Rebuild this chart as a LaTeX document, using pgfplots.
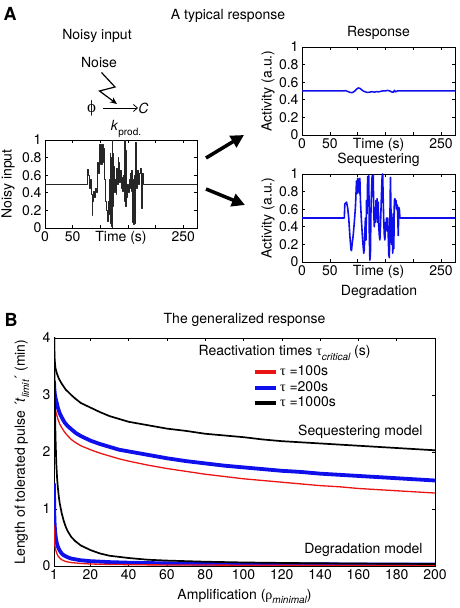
\documentclass[border=0pt]{standalone}
\usepackage{fontspec}
\setmainfont{TeX Gyre Heros}
\newfontfamily\grk{Liberation Serif}
\usepackage{pgfplots}
\pgfplotsset{compat=1.18}
\usetikzlibrary{arrows.meta}
\newcommand\fs{\fontsize{14}{16}\selectfont}
\newcommand\ssub[1]{\raisebox{-0.3em}{\fontsize{10}{11}\selectfont\itshape #1}}
\definecolor{mred}{RGB}{235,20,20}
\definecolor{mblue}{RGB}{15,15,235}

\pgfplotsset{
  mat/.style={scale only axis, axis line style={line width=0.7pt},
    tick align=inside, tick pos=both, xticklabel pos=left, yticklabel pos=left,
    major tick length=3pt, tick style={line width=0.6pt,black},
    tick label style={font=\fs}, label style={font=\fs}, title style={font=\fs},
    /pgf/number format/assume math mode=true,
    every axis plot/.append style={line join=round},
  },
  small/.style={mat, width=152pt, height=88pt, xmin=0, xmax=275, ymin=0, ymax=1,
    xtick={0,50,100,150,200,250}, xticklabels={0,50,,,,250},
    ytick={0,0.2,0.4,0.6,0.8,1}, yticklabels={0,0.2,0.4,0.6,0.8,1},
    xlabel={Time (s)},
    xlabel style={at={(axis description cs:0.5,0)}, anchor=north, inner sep=0.333em},
  },
}

\begin{document}
\begin{tikzpicture}
\path[use as bounding box] (0,0) rectangle (460pt,608pt);

% ---------- Noisy input ----------
\begin{axis}[small, at={(45pt,380pt)}, anchor=south west,
  ylabel={Noisy input},
  ylabel style={at={(axis description cs:-0.243,0.5)}, anchor=center}]
\addplot[const plot, black!85, line width=0.9pt] coordinates {
(0,0.5) (77,0.67) (79,0.60) (80.5,0.45) (82,0.55) (83.5,0.38) (85,0.14) (86.5,0.30)
(88,0.42) (89.5,0.35) (91,0.45) (92.5,0.40) (94,0.55) (95.5,0.75) (97,0.62) (98,0.95)
(98.7,0.75) (99.4,0.94) (100.1,0.72) (100.8,0.95) (101.5,0.80) (102.2,0.94) (103,0.72)
(104,0.95) (105,0.75) (106,0.90) (107,0.55) (108.5,0.42) (110,0.30) (111.5,0.20)
(113,0.08) (114.5,0.30) (116,0.55) (117,0.15) (118,0.85) (118.8,0.05) (119.6,0.80)
(120.4,0.02) (121.2,1.00) (122,0.00) (122.8,0.85) (123.6,0.25) (124.5,0.70) (125.5,0.40)
(127,0.55) (128.5,0.38) (130,0.68) (131,0.50) (132,0.80) (133,0.55) (134,0.75) (135,0.52)
(136.5,0.65) (138,0.45) (139.5,0.58) (141,0.42) (142.5,0.60) (143.5,0.30) (144.5,1.00)
(145.5,0.25) (146.5,0.88) (147.5,0.35) (149,0.50) (150.5,0.40) (152,0.55) (153.5,0.45)
(155,0.62) (156,0.42) (157,0.65) (158,0.06) (159,0.55) (160,0.04) (161,0.60) (162,0.05)
(163,0.52) (164,0.97) (165,0.45) (166.5,0.55) (168,0.65) (169.5,0.50) (171,0.62)
(172.5,0.68) (174,0.60) (175,0.22) (176,0.62) (177.5,0.50) (275,0.50)};
\end{axis}

% ---------- Response ----------
\begin{axis}[small, at={(302pt,473pt)}, anchor=south west, width=153pt,
  ylabel={Activity (a.u.)},
  ylabel style={at={(axis description cs:-0.222,0.5)}, anchor=center},
  title={Response},
  title style={at={(axis description cs:0.5,1)}, anchor=south, inner sep=1.5pt}]
\addplot[mblue, line width=1.5pt] coordinates {
(0,0.5) (75,0.5) (78,0.505) (82,0.495) (86,0.485) (90,0.48) (94,0.495) (98,0.52)
(101,0.535) (104,0.53) (107,0.515) (110,0.5) (114,0.49) (118,0.483) (122,0.488)
(126,0.492) (130,0.487) (134,0.493) (138,0.49) (142,0.497) (146,0.502) (150,0.5)
(154,0.507) (158,0.5) (161,0.49) (164,0.485) (166,0.508) (168,0.49) (171,0.5) (275,0.5)};
\end{axis}

% ---------- Sequestering ----------
\begin{axis}[small, at={(302pt,346pt)}, anchor=south west, width=153pt,
  ylabel={Activity (a.u.)},
  ylabel style={at={(axis description cs:-0.222,0.5)}, anchor=center},
  title={Sequestering},
  title style={at={(axis description cs:0.5,1)}, anchor=south, inner sep=1.5pt}]
\addplot[mblue, line width=1.6pt] coordinates {
(0,0.5) (76,0.5) (77,0.66) (80,0.68) (82,0.62) (84,0.50) (86,0.30) (88,0.14) (89,0.13)
(90,0.20) (92,0.30) (94,0.45) (96,0.62) (98,0.92) (99,0.78) (100,0.95) (101,0.80)
(102,0.94) (103,0.78) (104,0.95) (105,0.70) (107,0.45) (109,0.25) (111,0.10) (112,0.15)
(113,0.35) (114,0.50) (115,0.25) (116,0.70) (117,0.55) (118,0.97) (119,0.80) (120,0.98)
(121,0.30) (122,0.02) (123,0.10) (124,0.60) (125,0.80) (126,0.98) (127,0.75) (128,0.99)
(129,0.55) (130,0.40) (131,0.62) (132,0.45) (133,0.70) (134,0.50) (135,0.72) (136,0.45)
(137,0.68) (138,0.40) (139,0.30) (140,0.25) (141,0.40) (142,0.60) (143,0.80) (144,0.97)
(145,1.00) (146,0.70) (147,0.45) (148,0.30) (149,0.25) (150,0.45) (151,0.40) (152,0.50)
(153,0.35) (154,0.50) (155,0.30) (156,0.08) (157,0.05) (158,0.50) (159,0.96) (160,0.55)
(161,0.20) (162,0.50) (163,0.10) (164,0.55) (165,0.15) (166,0.70) (167,0.72) (168,0.65)
(169,0.70) (170,0.60) (171,0.65) (172,0.55) (173,0.30) (174,0.62) (175,0.60) (176,0.50)
(275,0.50)};
\end{axis}

% ---------- Panel B ----------
\begin{axis}[mat, at={(54pt,42pt)}, anchor=south west, width=381pt, height=228pt,
  xmin=1, xmax=200, ymin=0, ymax=4,
  xtick={1,20,40,60,80,100,120,140,160,180,200},
  xticklabels={1,20,40,60,80,100,120,140,160,180,200},
  ytick={0,1,2,3,4}, yticklabels={0,1,2,3,4},
  xlabel={Amplification ({\grk ρ}\ssub{minimal})},
  xlabel style={at={(axis description cs:0.5,-0.132)}, anchor=center},
  ylabel={Length of tolerated pulse ´\textit{t}\ssub{limit}´ (min)},
  ylabel style={at={(axis description cs:-0.084,0.5)}, anchor=center},
  title={The generalized response},
  title style={at={(axis description cs:0.5,1)}, anchor=south, inner sep=0pt, yshift=5pt},
  legend style={at={(rel axis cs:0.521,0.781)}, anchor=west, draw=none, fill=none,
    inner sep=0pt, outer sep=0pt, row sep=2pt, font=\fs,
    nodes={inner xsep=2.5pt, inner ysep=0pt, text height=10pt, text depth=3.5pt}},
  legend cell align=left,
  legend image code/.code={\draw[#1, line width=4pt] (0pt,0pt) -- (21pt,0pt);},
]
\addplot[mred, line width=1.3pt] coordinates {
(1,3.00) (1.2,2.88) (1.5,2.78) (2,2.70) (3,2.58) (4,2.49) (5,2.43) (6.5,2.35) (8,2.29)
(10,2.22) (12.5,2.16) (15,2.11) (20,2.04) (25,1.98) (30,1.93) (35,1.88) (40,1.84)
(50,1.77) (60,1.71) (70,1.66) (80,1.61) (90,1.57) (100,1.53) (110,1.50) (120,1.47)
(130,1.44) (140,1.41) (150,1.39) (160,1.36) (170,1.34) (180,1.32) (190,1.30) (200,1.28)};
\addlegendentry{{\grk τ} =100s}
\addplot[mblue, line width=3.8pt] coordinates {
(1,3.25) (1.2,3.10) (1.5,3.00) (2,2.92) (3,2.78) (4,2.68) (5,2.61) (6.5,2.52) (8,2.46)
(10,2.40) (12.5,2.33) (15,2.28) (20,2.20) (25,2.14) (30,2.09) (35,2.04) (40,2.01)
(50,1.95) (60,1.89) (70,1.84) (80,1.80) (90,1.76) (100,1.73) (110,1.70) (120,1.67)
(130,1.65) (140,1.62) (150,1.60) (160,1.58) (170,1.56) (180,1.54) (190,1.52) (200,1.50)};
\addlegendentry{{\grk τ} =200s}
\addplot[black, line width=1.7pt] coordinates {
(1,4.6) (1.1,3.9) (1.3,3.65) (1.7,3.48) (2.5,3.38) (3.5,3.29) (5,3.20) (7,3.10)
(10,3.00) (12,2.94) (15,2.86) (20,2.78) (25,2.70) (30,2.63) (40,2.53) (50,2.47)
(60,2.41) (70,2.37) (80,2.32) (90,2.29) (100,2.26) (110,2.22) (120,2.19) (130,2.17)
(140,2.15) (150,2.13) (160,2.11) (170,2.09) (180,2.07) (190,2.05) (200,2.03)};
\addlegendentry{{\grk τ} =1000s}
% degradation model
\addplot[mblue, line width=3.8pt, forget plot] coordinates {
(1,1.45) (1.05,1.2) (1.1,1.02) (1.2,0.85) (1.35,0.72) (1.6,0.60) (2,0.48) (2.5,0.40)
(3,0.34) (4,0.27) (5,0.22) (6,0.19) (8,0.155) (10,0.13) (15,0.10) (20,0.085) (30,0.068)
(40,0.058) (60,0.046) (80,0.04) (100,0.035) (150,0.028) (200,0.024)};
\addplot[mred, line width=1.3pt, forget plot] coordinates {
(1,0.72) (1.1,0.55) (1.2,0.46) (1.4,0.38) (1.7,0.31) (2,0.27) (2.5,0.22) (3,0.18)
(4,0.14) (5,0.11) (7,0.08) (10,0.06) (15,0.045) (20,0.035) (30,0.027) (50,0.02)
(100,0.014) (200,0.01)};
\addplot[black, line width=1.7pt, forget plot] coordinates {
(1,4.6) (1.2,3.6) (1.5,2.75) (1.8,2.25) (2.2,1.80) (2.6,1.55) (3,1.38) (3.5,1.22)
(4,1.10) (5,0.93) (6,0.80) (7,0.70) (8,0.62) (10,0.51) (12,0.44) (15,0.36) (20,0.28)
(25,0.22) (30,0.18) (40,0.14) (50,0.11) (60,0.095) (80,0.075) (100,0.062) (125,0.052)
(150,0.045) (175,0.04) (200,0.035)};
\end{axis}

% ---------- annotations (y measured from top) ----------
\begin{scope}[shift={(0pt,608pt)}, x=1pt, y=-1pt]
\node[font=\fontsize{18}{20}\selectfont\bfseries] at (10,14) {A};
\node[font=\fs] at (228,16) {A typical response};
\node[font=\fs] at (97,36) {Noisy input};
\node[font=\fs] at (99,63) {Noise};
\draw[line width=1.2pt, -{Stealth[length=7pt,width=6pt]}] (101.5,72.5) -- (115,87) -- (99.5,91) -- (117,104);
\node[font=\fontsize{17}{18}\selectfont\grk] at (91.5,108) {ϕ};
\draw[line width=0.8pt, -{Straight Barb[length=4pt,width=7pt]}] (103,108) -- (138,108);
\node[font=\fs\itshape] at (143.5,108.5) {C};
\node[font=\fs] at (126,129) {\textit{k}\raisebox{-0.3em}{\fontsize{10}{11}\selectfont prod.}};
\draw[line width=3.5pt, -{Triangle[length=13pt,width=13pt]}] (206,158) -- (244,135);
\draw[line width=3.5pt, -{Triangle[length=13pt,width=13pt]}] (206,189) -- (245,205);
\node[font=\fs] at (379,292) {Degradation};
\node[font=\fontsize{18}{20}\selectfont\bfseries] at (11,320) {B};
\node[font=\fs, anchor=west] at (195,353) {Reactivation times {\grk τ}\ssub{critical} (s)};
\node[font=\fs, anchor=east] at (426,432) {Sequestering model};
\node[font=\fs, anchor=east] at (426,550) {Degradation model};
\end{scope}
\end{tikzpicture}
\end{document}
